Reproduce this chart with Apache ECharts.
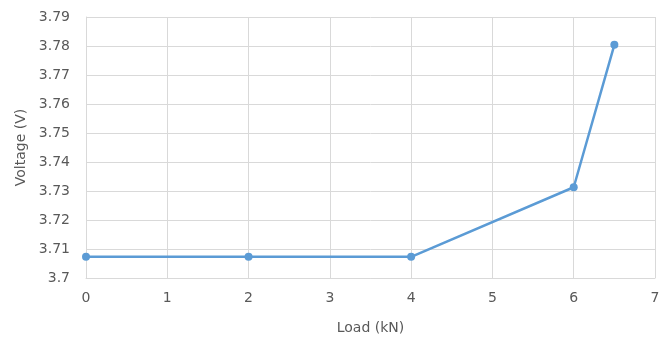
<!DOCTYPE html>
<html>
<head>
<meta charset="utf-8">
<script src="https://cdn.jsdelivr.net/npm/echarts@6/dist/echarts.min.js"></script>
<style>html,body{margin:0;padding:0;background:#fff}#c{width:672px;height:340px}</style>
</head>
<body>
<div id="c"></div>
<script>
const loads = [0, 2, 4, 6, 6.5];
const voltages = [3.7073, 3.7073, 3.7073, 3.7313, 3.7804];
const xTicks = {min: 0, max: 7, interval: 1};
const yTicks = {min: 3.7, max: 3.79, interval: 0.01};
const xName = 'Load (kN)';
const yName = 'Voltage (V)';

const chart = echarts.init(document.getElementById('c'), null, {renderer: 'canvas'});
const txt = '#595959';
const font = 'DejaVu Sans';
chart.setOption({
  animation: false,
  grid: {left: 86, right: 17, top: 17, bottom: 62, containLabel: false},
  xAxis: {
    type: 'value', min: xTicks.min, max: xTicks.max, interval: xTicks.interval,
    name: xName, nameLocation: 'middle', nameGap: 43,
    nameTextStyle: {color: txt, fontSize: 14, fontFamily: font},
    axisLine: {show: true, lineStyle: {color: '#d9d9d9'}},
    axisTick: {show: false},
    axisLabel: {color: txt, fontSize: 14, fontFamily: font, margin: 13},
    splitLine: {show: true, lineStyle: {color: '#d9d9d9', width: 1}}
  },
  yAxis: {
    type: 'value', min: yTicks.min, max: yTicks.max, interval: yTicks.interval,
    name: yName, nameLocation: 'middle', nameGap: 57,
    nameTextStyle: {color: txt, fontSize: 14, fontFamily: font},
    axisLine: {show: true, lineStyle: {color: '#d9d9d9'}},
    axisTick: {show: false},
    axisLabel: {color: txt, fontSize: 14, fontFamily: font, margin: 16,
      formatter: v => String(+v.toFixed(2))},
    splitLine: {show: true, lineStyle: {color: '#d9d9d9', width: 1}}
  },
  series: [{
    type: 'line',
    data: loads.map((x, i) => [x, voltages[i]]),
    symbol: 'circle', symbolSize: 8,
    lineStyle: {color: '#5B9BD5', width: 2.5},
    itemStyle: {color: '#5B9BD5'}
  }]
});
</script>
</body>
</html>
